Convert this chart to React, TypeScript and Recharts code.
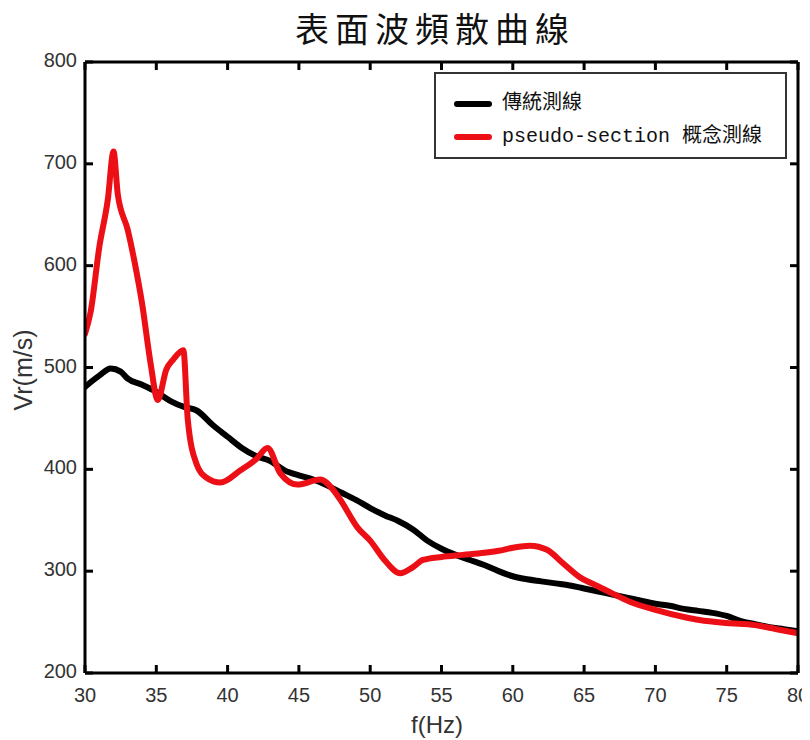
import React from 'react';
import { LineChart, Line, XAxis, YAxis, Legend } from 'recharts';

const freqTraditional = [30, 31, 31.8, 32.5, 33, 34, 35, 36, 37, 37.8, 39, 40, 41, 42, 43, 44, 45, 46, 47, 48, 49, 50, 51, 52, 53, 54, 55, 56, 57, 58, 59, 60, 61, 62, 63, 64, 65, 66, 67, 68, 69, 70, 71, 72, 73, 74, 75, 76, 77, 78, 79, 80];
const velTraditional = [481, 492, 499, 496, 489, 483, 476, 467, 461, 458, 443, 432, 421, 413, 408, 399, 394, 390, 384, 377, 370, 362, 355, 349, 341, 330, 322, 316, 311, 306, 300, 295, 292, 290, 288, 286, 283, 280, 277, 274, 271, 268, 266, 263, 261, 259, 256, 251, 248, 245, 243, 241];

const freqPseudo = [30, 30.4, 31, 31.6, 32, 32.3, 33, 33.5, 34, 34.6, 35.1, 35.7, 36.2, 36.9, 37.2, 37.8, 38.5, 39.5, 40.9, 42, 42.8, 43.7, 44.9, 46.5, 47.4, 48, 49.1, 50, 51, 52.1, 53, 53.7, 55, 56.5, 58, 59, 60, 61.2, 62.4, 63.5, 64.7, 66, 67, 68.2, 70, 72, 73.1, 75, 77, 78.5, 80];
const velPseudo = [533, 555, 618, 665, 712, 670, 635, 602, 563, 504, 468, 498, 508, 517, 450, 406, 392, 387, 399, 410, 421, 396, 385, 390, 380, 368, 343, 330, 311, 298, 304, 311, 314, 316, 318, 320, 323, 325, 321, 308, 294, 285, 278, 270, 262, 255, 252, 249, 247, 243, 239];

const xTicks = [30, 35, 40, 45, 50, 55, 60, 65, 70, 75, 80];
const yTicks = [200, 300, 400, 500, 600, 700, 800];

const titleText = '表面波頻散曲線';
const nameTraditional = '傳統測線';
const namePseudo = 'pseudo-section 概念測線';
const xLabel = 'f(Hz)';
const yLabel = 'Vr(m/s)';

const dataTraditional = freqTraditional.map((f, i) => ({ f, v: velTraditional[i] }));
const dataPseudo = freqPseudo.map((f, i) => ({ f, v: velPseudo[i] }));

const SANS = '"Liberation Sans", Arial, sans-serif';
const LEG_FONT = '"Liberation Mono", "Noto Sans CJK TC", monospace';
const RED = '#ec0f16';
const TICK_LEN = 8;
const TICK_W = 3;
const TICK_COLOR = '#000';

const BottomTick = (props: any) => {
  const { x, y, payload } = props;
  return (
    <g>
      <rect x={x - TICK_W / 2} y={y - TICK_LEN} width={TICK_W} height={TICK_LEN} fill={TICK_COLOR} />
      <text x={x} y={y + 29} textAnchor="middle" fontSize={20} fill="#333" fontFamily={SANS}>
        {payload.value}
      </text>
    </g>
  );
};

const TopTick = (props: any) => {
  const { x, y } = props;
  return <rect x={x - TICK_W / 2} y={y} width={TICK_W} height={TICK_LEN} fill={TICK_COLOR} />;
};

const LeftTick = (props: any) => {
  const { x, y, payload } = props;
  return (
    <g>
      <rect x={x} y={y - TICK_W / 2} width={TICK_LEN} height={TICK_W} fill={TICK_COLOR} />
      <text x={x - 8} y={y + 5} textAnchor="end" fontSize={20} fill="#333" fontFamily={SANS}>
        {payload.value}
      </text>
    </g>
  );
};

const RightTick = (props: any) => {
  const { x, y } = props;
  return <rect x={x - TICK_LEN} y={y - TICK_W / 2} width={TICK_LEN} height={TICK_W} fill={TICK_COLOR} />;
};

const renderLegend = () => (
  <div
    style={{
      width: 353,
      height: 87,
      border: '2px solid #333',
      boxSizing: 'border-box',
      background: '#fff',
      position: 'relative',
      fontFamily: LEG_FONT,
      fontSize: 20,
      color: '#111',
    }}
  >
    <div style={{ position: 'absolute', left: 18, top: 27, width: 38, height: 6, borderRadius: 3, background: '#000' }} />
    <div style={{ position: 'absolute', left: 66, top: 17, lineHeight: '26px', whiteSpace: 'nowrap' }}>{nameTraditional}</div>
    <div style={{ position: 'absolute', left: 18, top: 60, width: 38, height: 6, borderRadius: 3, background: RED }} />
    <div style={{ position: 'absolute', left: 66, top: 50, lineHeight: '26px', whiteSpace: 'nowrap' }}>{namePseudo}</div>
  </div>
);

export default function App() {
  return (
    <div style={{ position: 'relative', width: 802, height: 732 }}>
      <div
        style={{
          position: 'absolute',
          left: 224,
          top: 0,
          width: 406,
          textAlign: 'center',
          fontFamily: '"Noto Sans CJK TC", sans-serif',
          fontSize: 34,
          lineHeight: '40px',
          letterSpacing: 6,
          color: '#111',
          zIndex: 2,
        }}
      >
        {titleText}
      </div>
      <div
        style={{
          position: 'absolute',
          left: 15,
          top: 362,
          transform: 'translate(-50%, -50%) rotate(-90deg)',
          fontFamily: SANS,
          fontSize: 25,
          color: '#333',
          whiteSpace: 'nowrap',
          zIndex: 2,
        }}
      >
        {yLabel}
      </div>
      <div
        style={{
          position: 'absolute',
          left: 429,
          top: 703,
          transform: 'translateX(-50%)',
          fontFamily: SANS,
          fontSize: 24,
          lineHeight: '28px',
          color: '#333',
          whiteSpace: 'nowrap',
          zIndex: 2,
        }}
      >
        {xLabel}
      </div>
      <LineChart
        width={802}
        height={732}
        margin={{ top: 44, right: 2, bottom: 27, left: 17 }}
      >
        <XAxis
          xAxisId="bottom"
          dataKey="f"
          type="number"
          domain={[30, 80]}
          ticks={xTicks}
          allowDataOverflow
          orientation="bottom"
          height={40}
          tickSize={0}
          tickMargin={0}
          tickLine={false}
          axisLine={{ stroke: '#000', strokeWidth: 3 }}
          tick={<BottomTick />}
          interval={0}
        />
        <XAxis
          xAxisId="top"
          dataKey="f"
          type="number"
          domain={[30, 80]}
          ticks={xTicks}
          allowDataOverflow
          orientation="top"
          height={10}
          tickSize={0}
          tickMargin={0}
          tickLine={false}
          axisLine={{ stroke: '#000', strokeWidth: 3 }}
          tick={<TopTick />}
          interval={0}
        />
        <YAxis
          yAxisId="left"
          type="number"
          domain={[200, 800]}
          ticks={yTicks}
          allowDataOverflow
          orientation="left"
          width={60}
          tickSize={0}
          tickMargin={0}
          tickLine={false}
          axisLine={{ stroke: '#000', strokeWidth: 3 }}
          tick={<LeftTick />}
          interval={0}
        />
        <YAxis
          yAxisId="right"
          type="number"
          domain={[200, 800]}
          ticks={yTicks}
          allowDataOverflow
          orientation="right"
          width={10}
          tickSize={0}
          tickMargin={0}
          tickLine={false}
          axisLine={{ stroke: '#000', strokeWidth: 3 }}
          tick={<RightTick />}
          interval={0}
        />
        <Legend
          layout="vertical"
          align="center"
          verticalAlign="middle"
          content={renderLegend}
          wrapperStyle={{ position: 'absolute', left: 426, top: 64, width: 353, height: 87 }}
        />
        <Line
          xAxisId="bottom"
          yAxisId="left"
          data={dataTraditional}
          dataKey="v"
          name={nameTraditional}
          type="monotone"
          stroke="#000"
          strokeWidth={6}
          dot={false}
          strokeLinejoin="round"
          strokeLinecap="round"
          isAnimationActive={false}
        />
        <Line
          xAxisId="bottom"
          yAxisId="left"
          data={dataPseudo}
          dataKey="v"
          name={namePseudo}
          type="monotone"
          stroke={RED}
          strokeWidth={6}
          dot={false}
          strokeLinejoin="round"
          strokeLinecap="round"
          isAnimationActive={false}
        />
        <Line
          xAxisId="top"
          yAxisId="right"
          data={dataTraditional}
          dataKey="v"
          stroke="none"
          dot={false}
          legendType="none"
          isAnimationActive={false}
        />
      </LineChart>
    </div>
  );
}
